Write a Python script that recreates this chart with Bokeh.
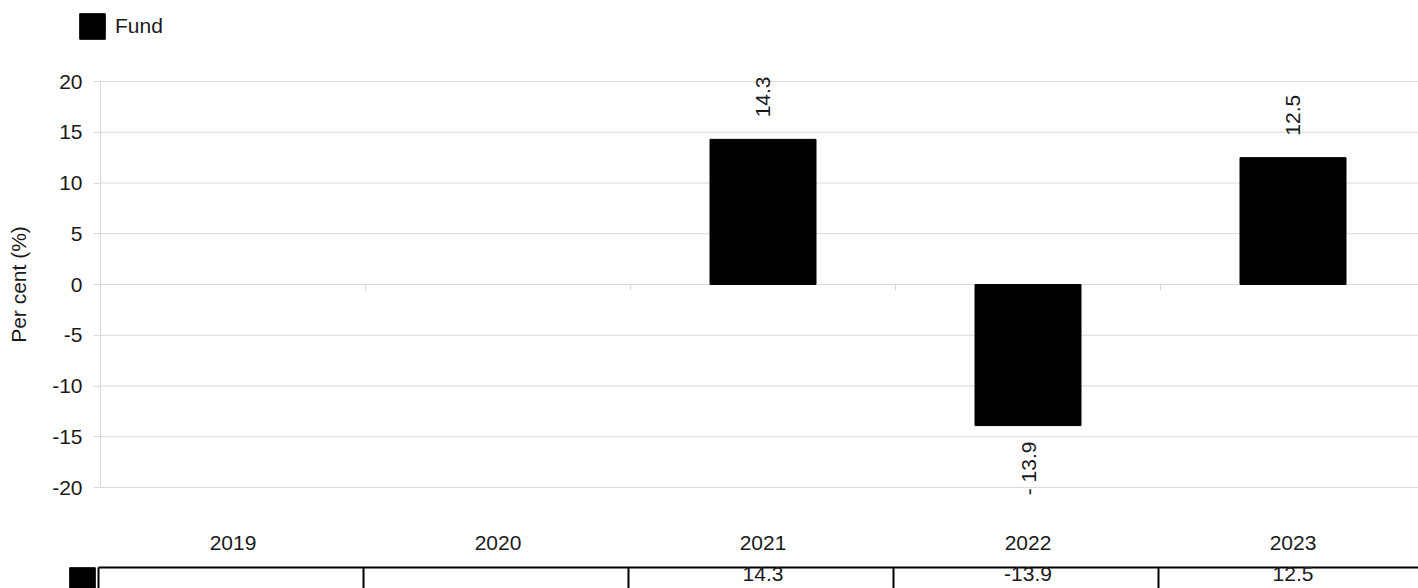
import math
from bokeh.plotting import figure
from bokeh.models import (Range1d, FixedTicker, Legend, LegendItem, ColumnDataSource,
                          LinearAxis)
from bokeh.core.properties import value
from bokeh.embed import file_html
from bokeh.resources import INLINE

# ---- data ----
years = ["2019", "2020", "2021", "2022", "2023"]
fund = [None, None, 14.3, -13.9, 12.5]
y_ticks = [-20, -15, -10, -5, 0, 5, 10, 15, 20]
series_name = "Fund"
y_title = "Per cent (%)"

# ---- layout constants (pixels) ----
W, H = 1418, 588
AXIS_X = 100          # pixel column of the value axis
CAT_PX = 265.0        # width of one category
PX_PER_Y = 10.15
TOP20 = 81            # pixel row of y = 20
Y_TOP = 20 + TOP20 / PX_PER_Y
Y_BOT = Y_TOP - H / PX_PER_Y
X_LEFT = -AXIS_X / CAT_PX
X_RIGHT = (W - AXIS_X) / CAT_PX

def ypx(px):
    return Y_TOP - px / PX_PER_Y

FONT = "Liberation Sans"
TXT = "#1a1a1a"
GRID = "#d9d9d9"
FS = "21px"

p = figure(width=W, height=H, output_backend="svg", toolbar_location=None,
           x_range=Range1d(X_LEFT, X_RIGHT), y_range=Range1d(Y_BOT, Y_TOP),
           x_axis_location=None, y_axis_location=None,
           min_border_left=0, min_border_right=0, min_border_top=0, min_border_bottom=0)
p.outline_line_color = None
p.background_fill_color = "white"
p.xgrid.visible = False
p.ygrid.visible = False

n = len(years)
xs = [i + 0.5 for i in range(n)]

# horizontal gridlines (from the axis to the right edge)
p.segment(x0=[0] * len(y_ticks), y0=y_ticks, x1=[X_RIGHT + 1] * len(y_ticks), y1=y_ticks,
          line_color=GRID, line_width=1)

# value axis
ax = LinearAxis(fixed_location=0)
ax.ticker = FixedTicker(ticks=y_ticks)
ax.bounds = (min(y_ticks), max(y_ticks))
ax.major_label_overrides = {t: str(t) for t in y_ticks}
ax.axis_line_color = GRID
ax.major_tick_line_color = GRID
ax.major_tick_out = 7
ax.major_tick_in = 0
ax.minor_tick_line_color = None
ax.major_label_text_font = FONT
ax.major_label_text_font_size = FS
ax.major_label_text_color = TXT
ax.major_label_standoff = 11
ax.axis_label = y_title
ax.axis_label_text_font = FONT
ax.axis_label_text_font_size = FS
ax.axis_label_text_font_style = "normal"
ax.axis_label_text_color = TXT
ax.axis_label_standoff = 19
p.add_layout(ax, "left")

vals = [float("nan") if v is None else v for v in fund]
src = ColumnDataSource(dict(x=xs, top=vals))
bars = p.vbar(x="x", top="top", bottom=0, width=0.4, source=src,
              fill_color="black", line_color="black")

# category separators hanging from the zero line
seps = list(range(1, n))
p.segment(x0=seps, y0=[0] * len(seps), x1=seps, y1=[-6 / PX_PER_Y] * len(seps),
          line_color=GRID, line_width=1)

# value labels on bars
pos_x = [x for x, v in zip(xs, fund) if v is not None and v >= 0]
pos_v = [v for v in fund if v is not None and v >= 0]
neg_x = [x for x, v in zip(xs, fund) if v is not None and v < 0]
neg_v = [v for v in fund if v is not None and v < 0]
p.text(x=pos_x, y=pos_v, text=[f"{v:.1f}" for v in pos_v], angle=math.pi / 2,
       text_align="left", text_baseline="middle", y_offset=-22,
       text_font=value(FONT), text_font_size=FS, text_color=TXT)
p.text(x=neg_x, y=neg_v, text=[f"- {abs(v):.1f}" for v in neg_v], angle=math.pi / 2,
       text_align="right", text_baseline="middle", y_offset=16,
       text_font=value(FONT), text_font_size=FS, text_color=TXT)

# category labels
p.text(x=xs, y=[ypx(542.5)] * n, text=years, text_align="center",
       text_baseline="middle", text_font=value(FONT), text_font_size=FS,
       text_color=TXT)

# data table row
shift = -2 / CAT_PX
edges = [k + shift for k in range(n + 1)]
y_tbl = ypx(567)
p.segment(x0=[edges[0]], y0=[y_tbl], x1=[X_RIGHT + 1], y1=[y_tbl],
          line_color="black", line_width=2)
p.segment(x0=edges, y0=[y_tbl] * len(edges), x1=edges, y1=[Y_BOT - 5] * len(edges),
          line_color="black", line_width=2)
p.text(x=xs, y=[ypx(573)] * n, text=["" if v is None else f"{v:.1f}" for v in fund],
       text_align="center", text_baseline="middle", text_font=value(FONT),
       text_font_size=FS, text_color=TXT)

# legend (top)
leg = Legend(items=[LegendItem(label=series_name, renderers=[bars])],
             location=(76, H - 42), orientation="horizontal",
             glyph_width=32, glyph_height=32, label_standoff=7,
             label_text_font=FONT, label_text_font_size=FS, label_text_color=TXT,
             padding=0, margin=0, spacing=0, border_line_color=None,
             background_fill_alpha=0)
p.add_layout(leg)
# table key square
leg2 = Legend(items=[LegendItem(label=" ", renderers=[bars])],
              location=(66, -8), glyph_width=32, glyph_height=32, label_standoff=0,
              label_text_font_size="1px", padding=0, margin=0, spacing=0,
              border_line_color=None, background_fill_alpha=0)
p.add_layout(leg2)

open("out.html", "w").write(file_html(p, INLINE))
